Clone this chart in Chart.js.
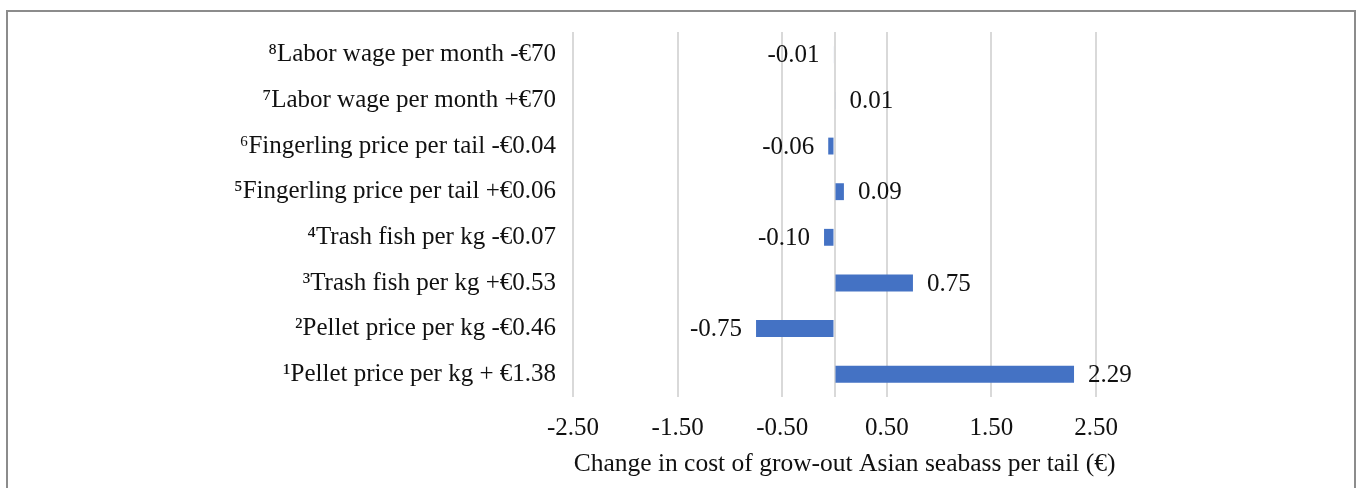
<!DOCTYPE html>
<html>
<head>
<meta charset="utf-8">
<script src="https://cdn.jsdelivr.net/npm/chart.js@4"></script>
<style>
  html, body { margin: 0; padding: 0; background: #fff; }
  #wrap { position: relative; width: 1360px; height: 488px; overflow: hidden; }
  #frame { position: absolute; left: 6px; top: 10px; width: 1346px; height: 600px;
           border: 2px solid #8c8c8c; pointer-events: none; }
  canvas { position: absolute; left: 0; top: 0; }
</style>
</head>
<body>
<div id="wrap">
  <canvas id="c" width="1360" height="488"></canvas>
  <div id="frame"></div>
</div>
<script>
// Sensitivity scenarios, listed top to bottom
const categories = [
  '\u2078Labor wage per month -\u20ac70',
  '\u2077Labor wage per month +\u20ac70',
  '\u2076Fingerling price per tail -\u20ac0.04',
  '\u2075Fingerling price per tail +\u20ac0.06',
  '\u2074Trash fish per kg -\u20ac0.07',
  '\u00b3Trash fish per kg +\u20ac0.53',
  '\u00b2Pellet price per kg -\u20ac0.46',
  '\u00b9Pellet price per kg + \u20ac1.38'
];
// Change in cost per tail (€)
const costChange = [-0.01, 0.01, -0.06, 0.09, -0.10, 0.75, -0.75, 2.29];
// Horizontal axis tick values (0 carries the axis line, unlabeled)
const tickValues = [-2.5, -1.5, -0.5, 0, 0.5, 1.5, 2.5];
const axisTitle = 'Change in cost of grow-out Asian seabass per tail (\u20ac)';

const FONT = '"Liberation Serif", "Times New Roman", "DejaVu Serif", serif';
const FSIZE = 25;

// Writes each bar's value just beyond its end, plus the axis caption
const valueLabels = {
  id: 'valueLabels',
  afterDatasetsDraw(chart) {
    const ctx = chart.ctx;
    const meta = chart.getDatasetMeta(0);
    ctx.save();
    ctx.font = FSIZE + 'px ' + FONT;
    ctx.fillStyle = '#111';
    ctx.textBaseline = 'middle';
    meta.data.forEach((bar, i) => {
      const v = chart.data.datasets[0].data[i];
      const txt = v.toFixed(2);
      if (v < 0) {
        ctx.textAlign = 'right';
        ctx.fillText(txt, bar.x - 14, bar.y + 1);
      } else {
        ctx.textAlign = 'left';
        ctx.fillText(txt, bar.x + 14, bar.y + 1);
      }
    });
    // axis caption, a little right of the plot centre
    const xs = chart.scales.x;
    ctx.font = '25.5px ' + FONT;
    ctx.textAlign = 'center';
    ctx.fillText(axisTitle, (xs.left + xs.right) / 2 + 10, xs.bottom - 24);
    ctx.restore();
  }
};

new Chart(document.getElementById('c'), {
  type: 'bar',
  data: {
    labels: categories,
    datasets: [{
      data: costChange,
      backgroundColor: '#4472C4',
      borderWidth: 0,
      categoryPercentage: 1,
      barPercentage: 0.37
    }]
  },
  options: {
    indexAxis: 'y',
    responsive: false,
    animation: false,
    layout: { padding: { top: 29, right: 264, bottom: 0, left: 0 } },
    plugins: { legend: { display: false }, tooltip: { enabled: false } },
    scales: {
      x: {
        min: -2.5,
        max: 2.5,
        afterBuildTicks(scale) {
          scale.ticks = tickValues.map(v => ({ value: v }));
        },
        afterFit(scale) { scale.height = 91; },
        grid: { color: '#d9d9d9', lineWidth: 2, drawTicks: false },
        border: { display: false },
        ticks: {
          padding: 16,
          color: '#111',
          font: { family: FONT, size: FSIZE },
          maxRotation: 0,
          autoSkip: false,
          callback(v) { return v === 0 ? '' : Number(v).toFixed(2); }
        },
        title: { display: false }
      },
      y: {
        afterFit(scale) { scale.width = 573; },
        grid: { display: false, drawTicks: false },
        border: { display: false },
        ticks: {
          padding: 17,
          color: '#111',
          font: { family: FONT, size: FSIZE },
          autoSkip: false
        }
      }
    }
  },
  plugins: [valueLabels]
});
</script>
</body>
</html>
